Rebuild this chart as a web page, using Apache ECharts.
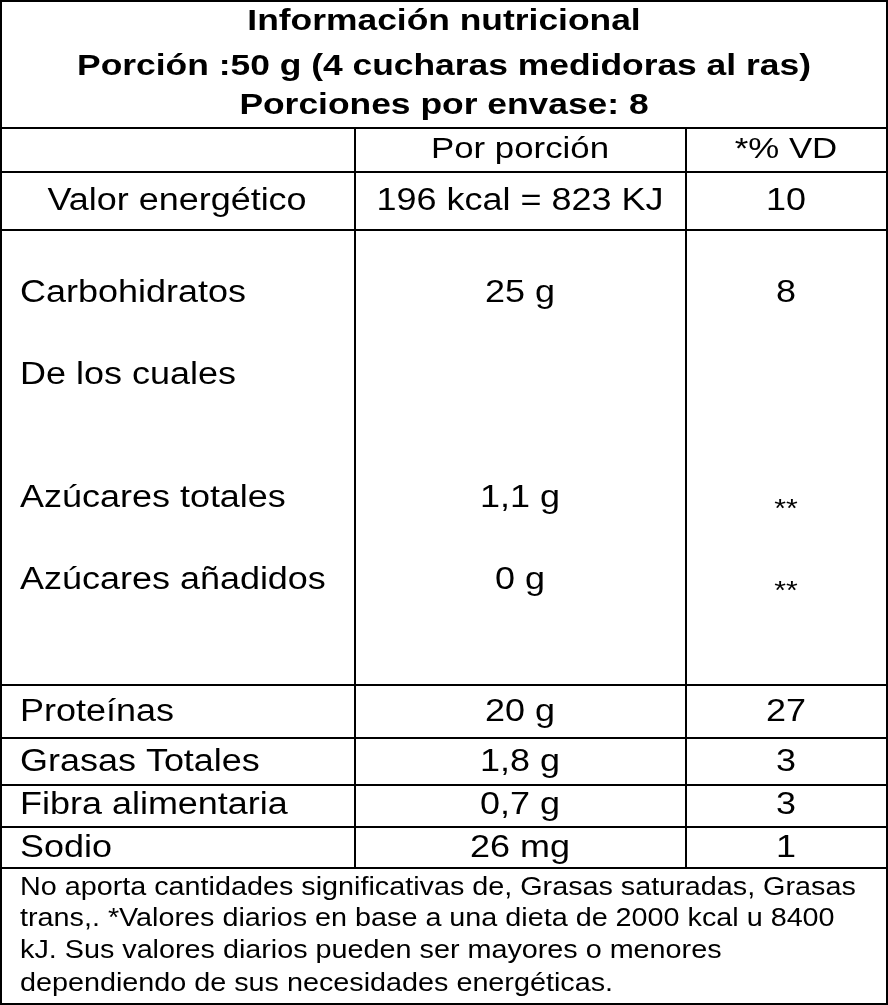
<!DOCTYPE html>
<html>
<head>
<meta charset="utf-8">
<script src="https://cdn.jsdelivr.net/npm/echarts@6/dist/echarts.min.js"></script>
<style>html,body{margin:0;padding:0;background:#fff}#tabla{width:888px;height:1005px}</style>
</head>
<body>
<div id="tabla"></div>
<script>
var titulo = ['Información nutricional', 'Porción :50 g (4 cucharas medidoras al ras)', 'Porciones por envase: 8'];
var encabezado = ['', 'Por porción', '*% VD'];
var energia = ['Valor energético', '196 kcal = 823 KJ', '10'];
var bloque = [
    ['Carbohidratos', '25 g', '8'],
    ['De los cuales', '', ''],
    ['Azúcares totales', '1,1 g', '**'],
    ['Azúcares añadidos', '0 g', '**']
];
var filas = [
    ['Proteínas', '20 g', '27'],
    ['Grasas Totales', '1,8 g', '3'],
    ['Fibra alimentaria', '0,7 g', '3'],
    ['Sodio', '26 mg', '1']
];
var nota = ['No aporta cantidades significativas de, Grasas saturadas, Grasas',
    'trans,. *Valores diarios en base a una dieta de 2000 kcal u 8400',
    'kJ. Sus valores diarios pueden ser mayores o menores',
    'dependiendo de sus necesidades energéticas.'];

var myChart = echarts.init(document.getElementById('tabla'));
var font = '"Liberation Sans", Arial, sans-serif';
var els = [];
function linea(x1, y1, x2, y2) {
    els.push({type: 'line', shape: {x1: x1, y1: y1, x2: x2, y2: y2}, style: {stroke: '#000', lineWidth: 2}});
}
// el texto original esta estirado a lo ancho
function texto(t, x, y, align, size, bold, sx) {
    els.push({type: 'text', x: x, y: y, scaleX: sx || 1.16,
        style: {text: t, fill: '#000', font: (bold ? 'bold ' : '') + size + 'px ' + font, textAlign: align, textVerticalAlign: 'middle'}});
}
var colX = [355, 686];
var c1 = 177, c2 = 520, c3 = 786;
els.push({type: 'rect', shape: {x: 1, y: 1, width: 886, height: 1003}, style: {fill: 'none', stroke: '#000', lineWidth: 2}});
[22, 67, 106].forEach(function (y, i) { texto(titulo[i], 444, y, 'center', 30, true, 1.18); });
var bordes = [128, 172, 230, 685, 738, 785, 827, 868];
bordes.forEach(function (y) { linea(0, y, 888, y); });
colX.forEach(function (x) { linea(x, 128, x, 868); });
texto(encabezado[1], c2, 150, 'center', 30);
texto(encabezado[2], c3, 150, 'center', 30);
texto(energia[0], c1, 201, 'center', 31);
texto(energia[1], c2, 201, 'center', 31);
texto(energia[2], c3, 201, 'center', 31);
[293, 375, 498, 580].forEach(function (y, i) {
    texto(bloque[i][0], 20, y, 'left', 31);
    texto(bloque[i][1], c2, y, 'center', 31);
    var est = bloque[i][2] === '**';
    texto(bloque[i][2], c3, est ? y + 12 : y, 'center', est ? 26 : 31);
});
[712, 762, 805, 848].forEach(function (y, i) {
    texto(filas[i][0], 20, y, 'left', 31);
    texto(filas[i][1], c2, y, 'center', 31);
    texto(filas[i][2], c3, y, 'center', 31);
});
[888, 919, 951, 984].forEach(function (y, i) { texto(nota[i], 20, y, 'left', 25, false, 1.15); });

option = {
    backgroundColor: '#fff',
    graphic: {elements: els}
};
myChart.setOption(option);
</script>
</body>
</html>
